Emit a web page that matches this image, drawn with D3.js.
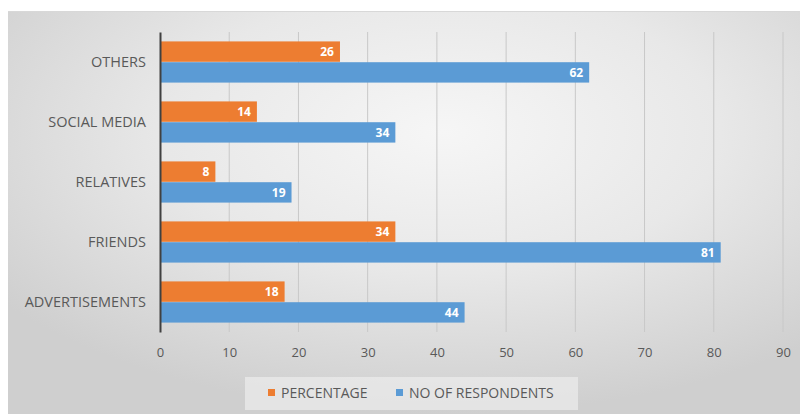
<!DOCTYPE html>
<html>
<head>
<meta charset="utf-8">
<script src="https://cdn.jsdelivr.net/npm/d3@7"></script>
<style>
  body { margin: 0; background: #fff; }
  text { font-family: "Open Sans", "DejaVu Sans", sans-serif; }
</style>
</head>
<body>
<div id="chart"></div>
<script>
// data
var categories = ["OTHERS", "SOCIAL MEDIA", "RELATIVES", "FRIENDS", "ADVERTISEMENTS"];
var percentage = [26, 14, 8, 34, 18];
var respondents = [62, 34, 19, 81, 44];
var seriesNames = ["PERCENTAGE", "NO OF RESPONDENTS"];
var xTicks = [0, 10, 20, 30, 40, 50, 60, 70, 80, 90];

var colors = ["#ED7D31", "#5B9BD5"];
var W = 800, H = 414;

var svg = d3.select("#chart").append("svg")
    .attr("width", W).attr("height", H);

// background panel with soft gradient
var defs = svg.append("defs");
var grad = defs.append("radialGradient").attr("id", "bg")
    .attr("cx", "55%").attr("cy", "30%").attr("r", "70%");
grad.append("stop").attr("offset", "0%").attr("stop-color", "#f6f6f6");
grad.append("stop").attr("offset", "50%").attr("stop-color", "#e8e8e8");
grad.append("stop").attr("offset", "100%").attr("stop-color", "#cfcfcf");

svg.append("rect").attr("x", 8).attr("y", 11)
    .attr("width", W - 8).attr("height", H - 11)
    .attr("fill", "url(#bg)");
svg.append("line").attr("x1", 8).attr("x2", W).attr("y1", 11.5).attr("y2", 11.5)
    .attr("stroke", "#d8d8d8");

var margin = {top: 32, left: 160, right: 17, bottom: 82};
var plotW = W - margin.left - margin.right,
    plotH = H - margin.top - margin.bottom;

var g = svg.append("g").attr("transform", "translate(" + margin.left + "," + margin.top + ")");

var x = d3.scaleLinear().domain([0, 90]).range([0, plotW]);
var y = d3.scaleBand().domain(categories).range([0, plotH]).paddingInner(0.3).paddingOuter(0.15);
var y1 = d3.scaleBand().domain([0, 1]).range([0, y.bandwidth()]).padding(0.02);

// gridlines
g.selectAll(".grid").data(xTicks.slice(1)).enter().append("line")
    .attr("x1", function(d) { return x(d); })
    .attr("x2", function(d) { return x(d); })
    .attr("y1", 0).attr("y2", plotH)
    .attr("stroke", "#c8c8c8").attr("stroke-width", 1);

// bars
var rows = categories.map(function(c, i) {
    return {cat: c, vals: [percentage[i], respondents[i]]};
});
var grp = g.selectAll(".cat").data(rows).enter().append("g")
    .attr("transform", function(d) { return "translate(0," + y(d.cat) + ")"; });

grp.selectAll("rect").data(function(d) { return d.vals; }).enter().append("rect")
    .attr("x", 0)
    .attr("y", function(d, i) { return y1(i); })
    .attr("width", function(d) { return x(d); })
    .attr("height", y1.bandwidth())
    .attr("fill", function(d, i) { return colors[i]; });

grp.selectAll(".lbl").data(function(d) { return d.vals; }).enter().append("text")
    .attr("x", function(d) { return x(d) - 6; })
    .attr("y", function(d, i) { return y1(i) + y1.bandwidth() / 2; })
    .attr("dy", "0.35em")
    .attr("text-anchor", "end")
    .attr("fill", "#fff")
    .attr("font-size", 12)
    .attr("font-weight", "bold")
    .text(function(d) { return d; });

// x axis
var xAxis = g.append("g").attr("transform", "translate(0," + plotH + ")")
    .call(d3.axisBottom(x).tickValues(xTicks).tickSize(0).tickPadding(16));
xAxis.select(".domain").remove();
xAxis.selectAll("text").attr("fill", "#595959").attr("font-size", 13)
    .style("font-family", "'Open Sans', sans-serif");

// y axis
var yAxis = g.append("g")
    .call(d3.axisLeft(y).tickSize(0).tickPadding(14));
yAxis.select(".domain").attr("stroke", "#404040").attr("stroke-width", 2);
yAxis.selectAll("text").attr("fill", "#595959").attr("font-size", 14.5)
    .style("font-family", "'Open Sans', sans-serif");

// legend
var leg = svg.append("g");
leg.append("rect").attr("x", 245).attr("y", 377).attr("width", 333).attr("height", 33)
    .attr("fill", "#ececec").attr("opacity", 0.7);
var legX = [268, 396];
seriesNames.forEach(function(name, i) {
    leg.append("rect").attr("x", legX[i]).attr("y", 389).attr("width", 7).attr("height", 7)
        .attr("fill", colors[i]);
    leg.append("text").attr("x", legX[i] + 13).attr("y", 393).attr("dy", "0.35em")
        .attr("fill", "#595959").attr("font-size", 14).text(name);
});
</script>
</body>
</html>
